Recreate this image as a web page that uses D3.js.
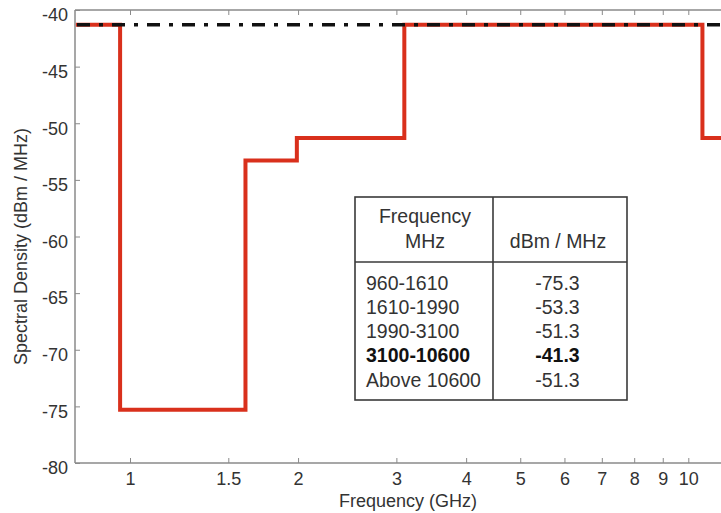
<!DOCTYPE html>
<html>
<head>
<meta charset="utf-8">
<script src="https://cdn.jsdelivr.net/npm/d3@7"></script>
<style>
  html, body { margin: 0; padding: 0; background: #fff; }
  svg { display: block; font-family: "Liberation Sans", Arial, Helvetica, sans-serif; }
</style>
</head>
<body>
<svg id="chart" width="721" height="513"></svg>
<script>
// Spectral mask: band edges (GHz) and emission limit (dBm/MHz) per band
const bandEdgesGHz = [0.8, 0.96, 1.61, 1.99, 3.1, 10.6, 12.5];
const bandLimits   = [-41.3, -75.3, -53.3, -51.3, -41.3, -51.3];
const referenceLevel = -41.3;

const xTicks = [1, 1.5, 2, 3, 4, 5, 6, 7, 8, 9, 10];
const yTicks = [-80, -75, -70, -65, -60, -55, -50, -45, -40];

// Table contents
const tableRanges = ["960-1610", "1610-1990", "1990-3100", "3100-10600", "Above 10600"];
const tableValues = ["-75.3", "-53.3", "-51.3", "-41.3", "-51.3"];
const tableBoldRow = 3;

const svg = d3.select("#chart");
const plotLeft = 75, plotTop = 10, plotBottom = 463;

const x = d3.scaleLog().domain([1, 10]).range([130, 688.3]);
const y = d3.scaleLinear().domain([-80, -40]).range([plotBottom, plotTop]);
const rightEdge = x(bandEdgesGHz[bandEdgesGHz.length - 1]);

const axisColor = "#8a8a8a";
const textColor = "#333";
const tickFont = "18px";

// Frame (left, top and bottom spines)
svg.append("line").attr("x1", plotLeft).attr("x2", plotLeft).attr("y1", plotTop).attr("y2", plotBottom)
  .attr("stroke", axisColor).attr("stroke-width", 1.5);
svg.append("line").attr("x1", plotLeft).attr("x2", rightEdge).attr("y1", plotTop).attr("y2", plotTop)
  .attr("stroke", axisColor).attr("stroke-width", 1.5);
svg.append("line").attr("x1", plotLeft).attr("x2", rightEdge).attr("y1", plotBottom).attr("y2", plotBottom)
  .attr("stroke", axisColor).attr("stroke-width", 1.5);

// Y axis: inward ticks, labels on the left (plain hyphen minus)
const yAxis = d3.axisLeft(y).tickValues(yTicks).tickSizeInner(-5).tickSizeOuter(0).tickPadding(7)
  .tickFormat(d => String(d));
const gy = svg.append("g").attr("transform", `translate(${plotLeft},0)`).call(yAxis);
gy.select(".domain").remove();
gy.selectAll(".tick line").attr("stroke", axisColor);
gy.selectAll(".tick text").attr("fill", textColor).attr("dy", "0.6em").style("font-size", tickFont);

// X axis: inward ticks, labels below
const xAxis = d3.axisBottom(x).tickValues(xTicks).tickSizeInner(-5).tickSizeOuter(0).tickPadding(9)
  .tickFormat(d => String(d));
const gx = svg.append("g").attr("transform", `translate(0,${plotBottom})`).call(xAxis);
gx.select(".domain").remove();
gx.selectAll(".tick line").attr("stroke", axisColor);
gx.selectAll(".tick text").attr("fill", textColor).style("font-size", tickFont);

// Mirrored ticks on the top spine
const gxTop = svg.append("g").attr("transform", `translate(0,${plotTop})`)
  .call(d3.axisTop(x).tickValues(xTicks).tickSizeInner(-5).tickSizeOuter(0).tickFormat(""));
gxTop.select(".domain").remove();
gxTop.selectAll(".tick line").attr("stroke", axisColor);

// Axis titles
svg.append("text").attr("x", 408).attr("y", 507).attr("text-anchor", "middle")
  .attr("fill", textColor).style("font-size", "18px").text("Frequency (GHz)");
svg.append("text").attr("transform", "translate(27,246.5) rotate(-90)").attr("text-anchor", "middle")
  .attr("fill", textColor).style("font-size", "18px").text("Spectral Density (dBm / MHz)");

// Step mask line
const stepPoints = [];
bandLimits.forEach((v, i) => {
  stepPoints.push([bandEdgesGHz[i], v]);
  stepPoints.push([bandEdgesGHz[i + 1], v]);
});
svg.append("path")
  .datum(stepPoints)
  .attr("fill", "none")
  .attr("stroke", "#d9301c")
  .attr("stroke-width", 4)
  .attr("stroke-linejoin", "miter")
  .attr("d", d3.line().x(d => x(d[0])).y(d => y(d[1])));

// Reference level, dash-dot
svg.append("line")
  .attr("x1", plotLeft + 2).attr("x2", rightEdge)
  .attr("y1", y(referenceLevel)).attr("y2", y(referenceLevel))
  .attr("stroke", "#111").attr("stroke-width", 3.5)
  .attr("stroke-dasharray", "13 9 4 9");

// Table of limits
const tbl = { x0: 355, x1: 627, xm: 493, y0: 197, ym: 262, y1: 400 };
const tableFont = "19.5px";
const tg = svg.append("g");
tg.append("rect").attr("x", tbl.x0).attr("y", tbl.y0)
  .attr("width", tbl.x1 - tbl.x0).attr("height", tbl.y1 - tbl.y0)
  .attr("fill", "#fff").attr("stroke", "#3a3a3a").attr("stroke-width", 1.6);
tg.append("line").attr("x1", tbl.xm).attr("x2", tbl.xm).attr("y1", tbl.y0).attr("y2", tbl.y1)
  .attr("stroke", "#3a3a3a").attr("stroke-width", 1.6);
tg.append("line").attr("x1", tbl.x0).attr("x2", tbl.x1).attr("y1", tbl.ym).attr("y2", tbl.ym)
  .attr("stroke", "#3a3a3a").attr("stroke-width", 1.6);

tg.append("text").attr("x", 425).attr("y", 223).attr("text-anchor", "middle")
  .attr("fill", textColor).style("font-size", tableFont).text("Frequency");
tg.append("text").attr("x", 425).attr("y", 248).attr("text-anchor", "middle")
  .attr("fill", textColor).style("font-size", tableFont).text("MHz");
tg.append("text").attr("x", 558).attr("y", 248).attr("text-anchor", "middle")
  .attr("fill", textColor).style("font-size", tableFont).text("dBm / MHz");

const rowY = d3.scaleLinear().domain([0, 4]).range([290, 386.5]);
tableRanges.forEach((r, i) => {
  const bold = i === tableBoldRow;
  tg.append("text").attr("x", 366).attr("y", rowY(i))
    .attr("fill", bold ? "#111" : textColor)
    .style("font-size", tableFont).style("font-weight", bold ? "bold" : "normal").text(r);
  tg.append("text").attr("x", 557.5).attr("y", rowY(i)).attr("text-anchor", "middle")
    .attr("fill", bold ? "#111" : textColor)
    .style("font-size", tableFont).style("font-weight", bold ? "bold" : "normal").text(tableValues[i]);
});
</script>
</body>
</html>
